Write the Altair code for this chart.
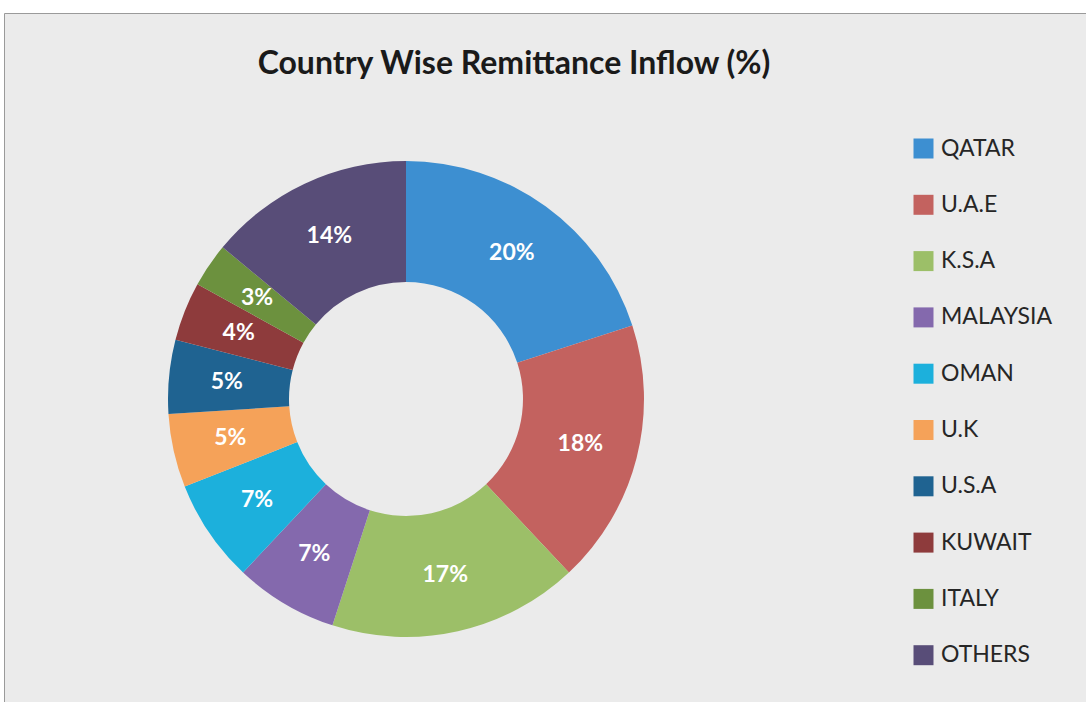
import altair as alt
import pandas as pd

countries = ["QATAR", "U.A.E", "K.S.A", "MALAYSIA", "OMAN", "U.K", "U.S.A", "KUWAIT", "ITALY", "OTHERS"]
shares = [20, 18, 17, 7, 7, 5, 5, 4, 3, 14]
colors = ["#3d8fd1", "#c3625f", "#9cbf68", "#8469ad", "#1cb0dc", "#f5a259", "#1f6391", "#8e3b3c", "#6c913e", "#584d78"]
labels = [f"{v}%" for v in shares]

df = pd.DataFrame({"country": countries, "share": shares, "label": labels, "idx": list(range(len(countries)))})

W, H = 1082, 689
cx, cy = 402, 386

base = alt.Chart(df).encode(
    theta=alt.Theta("share:Q", stack=True),
    order=alt.Order("idx:Q"),
    x=alt.value(cx),
    y=alt.value(cy),
)

arcs = base.mark_arc(innerRadius=117, outerRadius=238, strokeWidth=0).encode(
    color=alt.Color(
        "country:N",
        scale=alt.Scale(domain=countries, range=colors),
        sort=countries,
        legend=alt.Legend(
            title=None,
            orient="none",
            legendX=908,
            legendY=124,
            symbolType="square",
            symbolSize=400,
            symbolStrokeWidth=0,
            symbolOpacity=1,
            labelFontSize=23,
            labelFont="Lato",
            labelColor="#262626",
            labelOffset=6,
            rowPadding=32.3,
            padding=0,
        ),
    )
)

texts = base.mark_text(radius=180, fontSize=23, fontWeight="bold", font="Lato", color="white").encode(
    text="label:N"
)

chart = (
    alt.layer(arcs, texts)
    .properties(
        width=W,
        height=H,
        autosize=alt.AutoSizeParams(type="none"),
        padding={"left": 4, "top": 13, "right": 0, "bottom": 0},
        background="white",
        title=alt.TitleParams(
            "Country Wise Remittance Inflow (%)",
            font="Lato",
            fontSize=32,
            fontWeight="bold",
            color="#1a1a1a",
            anchor="middle",
            dx=-31,
            dy=68,
            offset=0,
        ),
    )
    .configure_view(fill="#ebebeb", stroke="#9a9a9a", strokeWidth=1)
)

chart.save("out.html", embed_options={"renderer": "svg", "actions": False})
